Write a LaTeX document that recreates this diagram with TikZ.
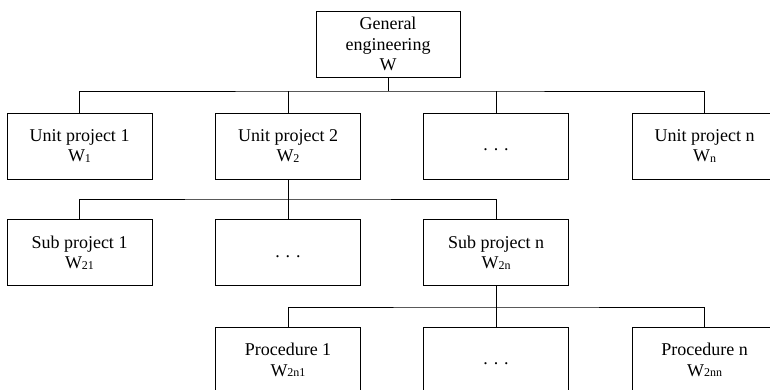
\documentclass[tikz,border=0pt]{standalone}
\usepackage{fontspec}
\setmainfont{Liberation Serif}
\newcommand{\sbs}[1]{\raisebox{-0.8pt}{\fontsize{12}{12}\selectfont #1}}
\newcommand{\vdotsh}{\raisebox{-10pt}{.\,\,.\,\,.}}
\begin{document}
\begin{tikzpicture}[x=1pt,y=-1pt,
  box/.style={draw, line width=0.9pt, minimum width=145pt, minimum height=66pt,
    inner sep=0pt, align=center, font=\fontsize{18}{20.5}\selectfont},
  conn/.style={line width=0.9pt}]
\useasboundingbox (0,0) rectangle (770,389);
\clip (0,0) rectangle (770,389);
% top
\node[box, minimum width=144pt] (top) at (388,44) {General\\engineering\\W};
% row 1
\node[box] (u1) at (79.5,146) {Unit project 1\\W\sbs{1}};
\node[box] (u2) at (288,146) {Unit project 2\\W\sbs{2}};
\node[box] (u3) at (496,146) {\vdotsh};
\node[box] (u4) at (704.5,146) {Unit project n\\W\sbs{n}};
% row 2
\node[box] (s1) at (79.5,252.5) {Sub project 1\\W\sbs{21}};
\node[box] (s2) at (288,252.5) {\vdotsh};
\node[box] (s3) at (496,252.5) {Sub project n\\W\sbs{2n}};
% row 3
\node[box] (p1) at (288,360) {Procedure 1\\W\sbs{2n1}};
\node[box] (p2) at (496,360) {\vdotsh};
\node[box] (p3) at (704.5,360) {Procedure n\\W\sbs{2nn}};
% buses
\coordinate (b1) at (388,91);
\coordinate (b2) at (288,199);
\coordinate (b3) at (496,307);
\draw[conn] (top.south) -- (b1);
\draw[conn] (u1.north) |- (b1) -| (u4.north);
\draw[conn] (u2.north) -- (u2.north |- b1);
\draw[conn] (u3.north) -- (u3.north |- b1);
\draw[conn] (u2.south) -- (b2);
\draw[conn] (s1.north) |- (b2) -| (s3.north);
\draw[conn] (s2.north) -- (s2.north |- b2);
\draw[conn] (s3.south) -- (b3);
\draw[conn] (p1.north) |- (b3) -| (p3.north);
\draw[conn] (p2.north) -- (p2.north |- b3);
\end{tikzpicture}
\end{document}
